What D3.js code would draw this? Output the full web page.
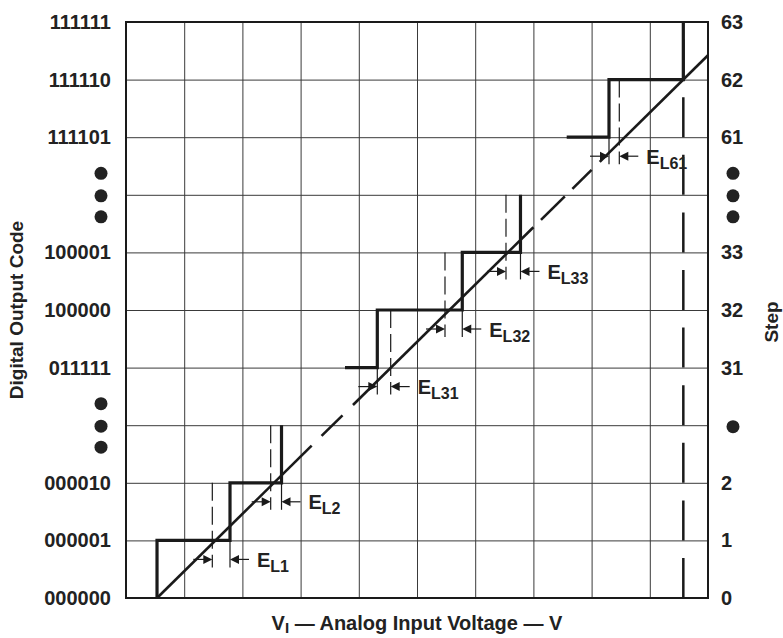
<!DOCTYPE html>
<html>
<head>
<meta charset="utf-8">
<script src="https://cdn.jsdelivr.net/npm/d3@7"></script>
<style>
  html, body { margin: 0; padding: 0; background: #fff; }
  svg text { font-family: "Liberation Sans", Arial, Helvetica, sans-serif; font-weight: bold; fill: #222; }
</style>
</head>
<body>
<svg id="chart" width="783" height="638"></svg>
<script>
// ---------- data (grid units: 10 columns of input voltage, 10 rows of output code) ----------
const rowIndex = [0,1,2,3,4,5,6,7,8,9,10];
const codeLabels = ["000000","000001","000010","","011111","100000","100001","","111101","111110","111111"];
const stepLabels = ["0","1","2","","31","32","33","","61","62","63"];
const leftEllipsisRows = [3, 7];
const rightEllipsisRows3 = [7];
const rightEllipsisRows1 = [3];

// actual transfer function (staircase) pieces: [input, code row]
const stairLow  = [[0.533,0],[0.533,1],[1.787,1],[1.787,2],[2.672,2],[2.672,3]];
const stairMid  = [[3.763,4],[4.318,4],[4.318,5],[5.778,5],[5.778,6],[6.778,6],[6.778,7]];
const stairHigh = [[7.572,8],[8.299,8],[8.299,9],[9.576,9],[9.576,10]];

// ideal straight-line transfer
const idealStart = [0.533, 0];
const idealEnd   = [10, 9.422];
// visible portions of the ideal line (input ranges); gaps make the dashed breaks
const idealVisible = [[0.533,3.19],[3.36,3.72],[3.9,7.0],[7.13,7.54],[7.67,8.0],[8.14,10]];

// full-scale transition (vertical long-dash line)
const fullScaleX = 9.576;

// linearity error markers: step row, ideal transition, actual transition
const errLabels  = ["L1","L2","L31","L32","L33","L61"];
const errRows    = [1, 2, 4, 5, 6, 8];
const errIdeal   = [1.483, 2.486, 4.548, 5.481, 6.529, 8.476];
const errActual  = [1.787, 2.672, 4.318, 5.778, 6.778, 8.299];

// ---------- drawing ----------
const svg = d3.select("#chart");
const pL = 126, pR = 708, pT = 22, pB = 598;
const x = d3.scaleLinear().domain([0,10]).range([pL, pR]);
const y = d3.scaleLinear().domain([0,10]).range([pB, pT]);
const ink = "#1a1a1a";

// grid
svg.append("g")
  .attr("transform", `translate(0,${pB})`)
  .call(d3.axisBottom(x).tickValues(rowIndex).tickSize(-(pB-pT)).tickFormat(""))
  .call(g => g.select(".domain").remove())
  .call(g => g.selectAll("line").attr("stroke", "#3a3a3a").attr("stroke-width", 1));
svg.append("g")
  .attr("transform", `translate(${pL},0)`)
  .call(d3.axisLeft(y).tickValues(rowIndex).tickSize(-(pR-pL)).tickFormat(""))
  .call(g => g.select(".domain").remove())
  .call(g => g.selectAll("line").attr("stroke", "#3a3a3a").attr("stroke-width", 1));

// frame
svg.append("rect")
  .attr("x", x(0)).attr("y", y(10))
  .attr("width", x(10)-x(0)).attr("height", y(0)-y(10))
  .attr("fill", "none").attr("stroke", ink).attr("stroke-width", 2);

// left labels
svg.append("g")
  .attr("transform", `translate(${pL},0)`)
  .call(d3.axisLeft(y).tickValues(rowIndex).tickSize(0).tickPadding(15).tickFormat(i => codeLabels[i]))
  .call(g => g.select(".domain").remove())
  .call(g => g.selectAll("text").attr("font-size", 20).attr("font-family", null).style("fill", "#222"));
// right labels
svg.append("g")
  .attr("transform", `translate(${pR},0)`)
  .call(d3.axisRight(y).tickValues(rowIndex).tickSize(0).tickPadding(13).tickFormat(i => stepLabels[i]))
  .call(g => g.select(".domain").remove())
  .call(g => g.selectAll("text").attr("font-size", 20).attr("font-family", null).style("fill", "#222"));

// ellipsis dots
const dotOff = [-21.5, 1, 22];
leftEllipsisRows.forEach(r => dotOff.forEach(o =>
  svg.append("circle").attr("cx", 101).attr("cy", y(r)+o).attr("r", 6.5).attr("fill", "#222")));
rightEllipsisRows3.forEach(r => dotOff.forEach(o =>
  svg.append("circle").attr("cx", 733).attr("cy", y(r)+o).attr("r", 6.5).attr("fill", "#222")));
rightEllipsisRows1.forEach(r =>
  svg.append("circle").attr("cx", 733).attr("cy", y(r)+1.5).attr("r", 6.5).attr("fill", "#222"));

// full-scale dashed vertical
svg.append("line")
  .attr("x1", x(fullScaleX)).attr("x2", x(fullScaleX))
  .attr("y1", y(0)).attr("y2", y(10))
  .attr("stroke", ink).attr("stroke-width", 2.5)
  .attr("stroke-dasharray", "40,17.6");

// error markers
const arrowLen = 19, headL = 9, headH = 4.5;
errLabels.forEach((lab, i) => {
  const k = errRows[i];
  const xi = x(errIdeal[i]), xa = x(errActual[i]);
  const ay = y(k) + 19;
  const yb = ay + 8;
  const g = svg.append("g");
  g.append("line").attr("x1", xi).attr("x2", xi).attr("y1", y(k+1)).attr("y2", yb)
    .attr("stroke", ink).attr("stroke-width", 1.2).attr("stroke-dasharray", "18,6");
  g.append("line").attr("x1", xa).attr("x2", xa).attr("y1", y(k)).attr("y2", yb)
    .attr("stroke", ink).attr("stroke-width", 1.2);
  const xl = Math.min(xi, xa), xr = Math.max(xi, xa);
  g.append("line").attr("x1", xl-arrowLen).attr("x2", xl-headL+1).attr("y1", ay).attr("y2", ay)
    .attr("stroke", ink).attr("stroke-width", 1.2);
  g.append("path").attr("d", `M${xl},${ay}L${xl-headL},${ay-headH}L${xl-headL},${ay+headH}Z`).attr("fill", ink);
  g.append("line").attr("x1", xr+headL-1).attr("x2", xr+arrowLen).attr("y1", ay).attr("y2", ay)
    .attr("stroke", ink).attr("stroke-width", 1.2);
  g.append("path").attr("d", `M${xr},${ay}L${xr+headL},${ay-headH}L${xr+headL},${ay+headH}Z`).attr("fill", ink);
  const t = g.append("text").attr("x", xr+27).attr("y", ay+7.5).attr("font-size", 20);
  t.append("tspan").text("E");
  t.append("tspan").attr("font-size", 16).attr("dy", 5).text(lab);
});

// ideal line
const slope = (idealEnd[1]-idealStart[1])/(idealEnd[0]-idealStart[0]);
const idealY = v => idealStart[1] + (v-idealStart[0])*slope;
idealVisible.forEach(([a,b]) => {
  svg.append("line")
    .attr("x1", x(a)).attr("y1", y(idealY(a)))
    .attr("x2", x(b)).attr("y2", y(idealY(b)))
    .attr("stroke", ink).attr("stroke-width", 2.6);
});

// staircase
const stairLine = d3.line().x(d => x(d[0])).y(d => y(d[1]));
[stairLow, stairMid, stairHigh].forEach(s => {
  svg.append("path").attr("d", stairLine(s))
    .attr("fill", "none").attr("stroke", ink).attr("stroke-width", 3.2)
    .attr("stroke-linejoin", "miter").attr("stroke-linecap", "butt");
});

// axis titles
svg.append("text").attr("transform", `translate(23,${(pT+pB)/2}) rotate(-90)`)
  .attr("text-anchor", "middle").attr("font-size", 19).text("Digital Output Code");
svg.append("text").attr("transform", `translate(778,322) rotate(-90)`)
  .attr("text-anchor", "middle").attr("font-size", 19).text("Step");
const xt = svg.append("text").attr("x", (pL+pR)/2).attr("y", 630).attr("text-anchor", "middle").attr("font-size", 20);
xt.append("tspan").text("V");
xt.append("tspan").attr("font-size", 15).attr("dy", 3).text("I");
xt.append("tspan").attr("dy", -3).text(" — Analog Input Voltage — V");
</script>
</body>
</html>
